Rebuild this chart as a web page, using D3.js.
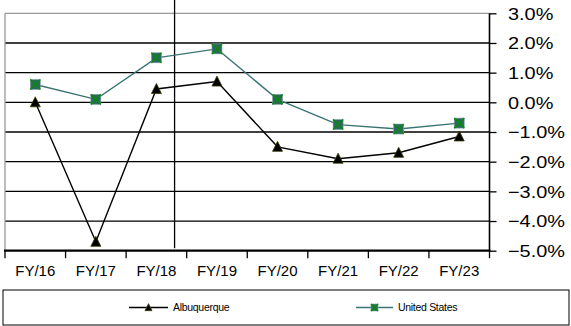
<!DOCTYPE html>
<html>
<head>
<meta charset="utf-8">
<script src="https://cdn.jsdelivr.net/npm/d3@7/dist/d3.min.js"></script>
<style>
  html, body { margin: 0; padding: 0; background: #fff; }
  svg { display: block; }
</style>
</head>
<body>
<svg id="chart" width="571" height="326"></svg>
<script>
// Fiscal years on the category axis
const categories = ["FY/16", "FY/17", "FY/18", "FY/19", "FY/20", "FY/21", "FY/22", "FY/23"];
// Annual change, percent
const albuquerque = [0.0, -4.7, 0.45, 0.7, -1.5, -1.9, -1.7, -1.15];
const unitedStates = [0.6, 0.1, 1.5, 1.8, 0.1, -0.75, -0.9, -0.7];
// Percent axis ticks
const yTicks = [3, 2, 1, 0, -1, -2, -3, -4, -5];
const seriesNames = ["Albuquerque", "United States"];

const svg = d3.select("#chart");
const plotLeft = 5, plotRight = 489.5, plotTop = 13.3, plotBottom = 250.7;

const x = d3.scaleBand().domain(categories).range([plotLeft, plotRight]);
const y = d3.scaleLinear().domain([-5, 3]).range([plotBottom, plotTop]);
const fmt = d => d3.format(".1f")(d) + "%";

// Horizontal gridlines
svg.append("g").selectAll("line")
  .data(yTicks.filter(t => t > -5 && t < 3))
  .join("line")
  .attr("x1", plotLeft).attr("x2", plotRight)
  .attr("y1", d => y(d)).attr("y2", d => y(d))
  .attr("stroke", "#000").attr("stroke-width", 1.3);

// Plot frame: grey top and left edges
svg.append("line").attr("x1", plotLeft).attr("x2", plotRight).attr("y1", y(3)).attr("y2", y(3))
  .attr("stroke", "#999").attr("stroke-width", 1.3);
svg.append("line").attr("x1", plotLeft).attr("x2", plotLeft).attr("y1", y(3)).attr("y2", y(-5))
  .attr("stroke", "#999").attr("stroke-width", 1.3);

// Right value axis
const yAxis = svg.append("g").attr("transform", `translate(${plotRight},0)`)
  .call(d3.axisRight(y).tickValues(yTicks).tickSize(7).tickFormat(fmt));
yAxis.select(".domain").attr("stroke", "#000").attr("stroke-width", 1.6)
  .attr("d", `M0,${y(3)}V${y(-5)}`);
yAxis.selectAll(".tick line").attr("stroke", "#000").attr("stroke-width", 1.3);
yAxis.selectAll(".tick text")
  .attr("x", 0).attr("dy", "0.35em")
  .attr("transform", "translate(18.5,0) scale(1.17,1)")
  .attr("fill", "#000")
  .style("font-family", "'Liberation Sans', Arial, sans-serif")
  .style("font-size", "17px");

// Bottom category axis: labels centred, ticks on band edges
const xAxis = svg.append("g").attr("transform", `translate(0,${plotBottom})`)
  .call(d3.axisBottom(x).tickSize(0).tickPadding(15));
xAxis.select(".domain").remove();
xAxis.selectAll(".tick text")
  .attr("fill", "#000")
  .style("font-family", "'Liberation Sans', Arial, sans-serif")
  .style("font-size", "15px");
const edges = categories.map(c => x(c)).concat([x(categories[categories.length - 1]) + x.bandwidth()]);
svg.append("g").selectAll("line").data(edges).join("line")
  .attr("x1", d => d).attr("x2", d => d)
  .attr("y1", plotBottom).attr("y2", plotBottom + 7.5)
  .attr("stroke", "#000").attr("stroke-width", 1.3);
svg.append("line").attr("x1", plotLeft - 1).attr("x2", plotRight + 1).attr("y1", plotBottom).attr("y2", plotBottom)
  .attr("stroke", "#000").attr("stroke-width", 2.2);

// Vertical marker line through FY/18
const markX = x("FY/18") + x.bandwidth() * 0.8;
svg.append("line").attr("x1", markX).attr("x2", markX).attr("y1", 0).attr("y2", plotBottom - 2.5)
  .attr("stroke", "#000").attr("stroke-width", 1.3);

const cx = d => x(d) + x.bandwidth() / 2;
const line = d3.line().x((v, i) => cx(categories[i])).y(v => y(v));

// United States series
svg.append("path").datum(unitedStates).attr("d", line)
  .attr("fill", "none").attr("stroke", "#3a7373").attr("stroke-width", 1.4);
function squareMark(g, px, py, s) {
  g.append("rect").attr("x", px - s / 2).attr("y", py - s / 2).attr("width", s).attr("height", s)
    .attr("fill", "#2e6666").attr("stroke", "#7fa3a3").attr("stroke-width", 0.6);
  g.append("path")
    .attr("d", `M${px - s / 2},${py - s / 2}L${px + s / 2},${py + s / 2}M${px + s / 2},${py - s / 2}L${px - s / 2},${py + s / 2}`)
    .attr("stroke", "#0a8a0a").attr("stroke-width", 1.5);
}
const usMarks = svg.append("g");
unitedStates.forEach((v, i) => squareMark(usMarks, cx(categories[i]), y(v), 10));

// Albuquerque series
svg.append("path").datum(albuquerque).attr("d", line)
  .attr("fill", "none").attr("stroke", "#000").attr("stroke-width", 1.4);
function triMark(g, px, py, s) {
  g.append("path")
    .attr("d", `M${px},${py - s * 0.55}L${px + s / 2},${py + s * 0.45}L${px - s / 2},${py + s * 0.45}Z`)
    .attr("fill", "#000").attr("stroke", "#3a3a00").attr("stroke-width", 0.8);
}
const abqMarks = svg.append("g");
albuquerque.forEach((v, i) => triMark(abqMarks, cx(categories[i]), y(v), 10));

// Legend
svg.append("rect").attr("x", 3).attr("y", 290).attr("width", 566).attr("height", 35)
  .attr("fill", "#fff").attr("stroke", "#000").attr("stroke-width", 1);
const legendY = 307.5;
const legendItems = [
  { name: seriesNames[0], x0: 129, x1: 168, color: "#000", mark: (g, px, py) => triMark(g, px, py, 7) },
  { name: seriesNames[1], x0: 356, x1: 393, color: "#3a7373", mark: (g, px, py) => squareMark(g, px, py, 7) }
];
legendItems.forEach(it => {
  const g = svg.append("g");
  g.append("line").attr("x1", it.x0).attr("x2", it.x1).attr("y1", legendY).attr("y2", legendY)
    .attr("stroke", it.color).attr("stroke-width", 1.3);
  it.mark(g, (it.x0 + it.x1) / 2, legendY, 7);
  g.append("text").attr("x", it.x1 + 5).attr("y", legendY).attr("dy", "0.35em")
    .attr("fill", "#000")
    .style("font-family", "'Liberation Sans Narrow', 'Liberation Sans', Arial, sans-serif")
    .style("font-size", "10.5px")
    .style("letter-spacing", "-0.3px")
    .text(it.name);
});
</script>
</body>
</html>
